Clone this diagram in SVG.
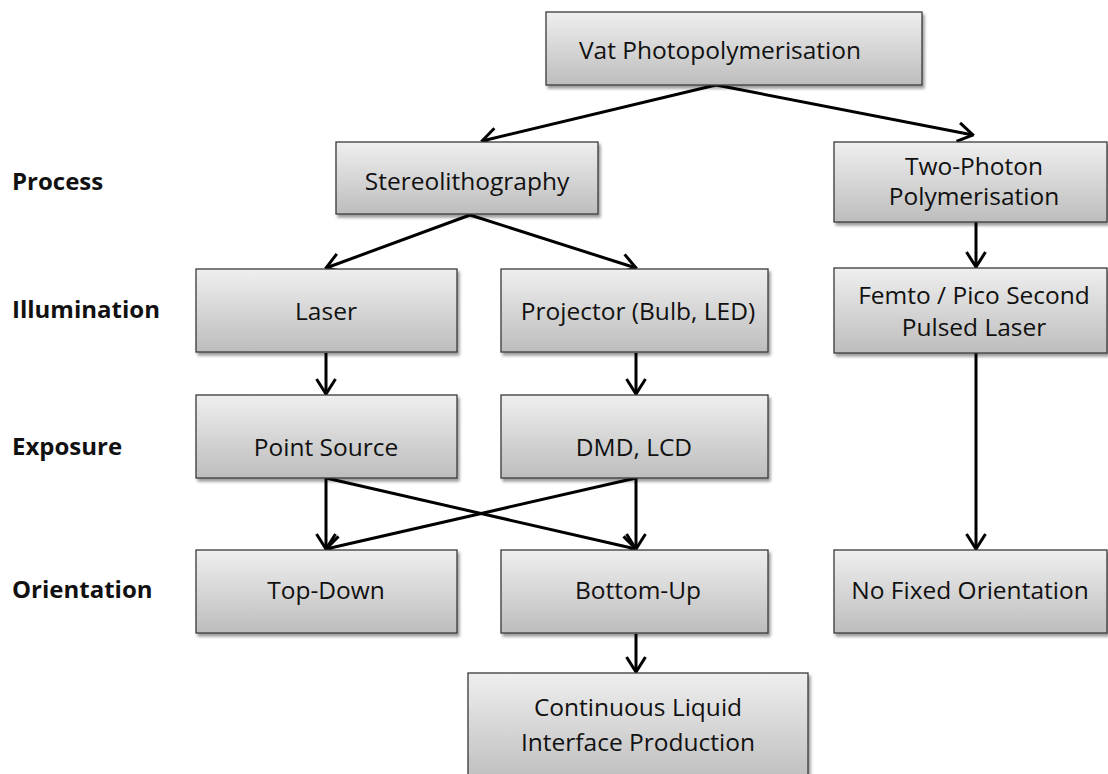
<svg xmlns="http://www.w3.org/2000/svg" width="1108" height="774" viewBox="0 0 1108 774">
<defs>
<linearGradient id="g" x1="0" y1="0" x2="0" y2="1">
<stop offset="0" stop-color="#efefef"/>
<stop offset="1" stop-color="#bdbdbd"/>
</linearGradient>
<filter id="sh" x="-5%" y="-5%" width="115%" height="125%">
<feGaussianBlur in="SourceAlpha" stdDeviation="1.5"/>
<feOffset dx="2" dy="3"/>
<feComponentTransfer><feFuncA type="linear" slope="0.4"/></feComponentTransfer>
<feMerge><feMergeNode/><feMergeNode in="SourceGraphic"/></feMerge>
</filter>
<marker id="a" viewBox="0 0 18 24" refX="16.5" refY="12" markerWidth="18" markerHeight="24" markerUnits="userSpaceOnUse" orient="auto">
<path d="M1.5,2.5 L16.5,12 L1.5,21.5" fill="none" stroke="#000" stroke-width="3"/>
</marker>
</defs>
<style>
.b{fill:url(#g);stroke:#3a3a3a;stroke-width:1.3;filter:url(#sh)}
.t{font-family:"Open Sans","Liberation Sans",sans-serif;font-size:24.5px;fill:#111;text-anchor:middle}
.l{font-family:"Open Sans","Liberation Sans",sans-serif;font-size:24px;font-weight:bold;fill:#111}
.c{stroke:#000;stroke-width:3;fill:none;marker-end:url(#a)}
</style>
<rect width="1108" height="774" fill="#fff"/>
<g id="labels">
<text class="l" x="12" y="190">Process</text>
<text class="l" x="12" y="318">Illumination</text>
<text class="l" x="12" y="455">Exposure</text>
<text class="l" x="12" y="598">Orientation</text>
</g>
<g id="connectors">
<line class="c" x1="716" y1="85" x2="482" y2="141"/>
<line class="c" x1="716" y1="85" x2="973" y2="135"/>
<line class="c" x1="470" y1="215" x2="326" y2="268"/>
<line class="c" x1="470" y1="215" x2="636" y2="268"/>
<line class="c" x1="326" y1="353" x2="326" y2="394"/>
<line class="c" x1="636" y1="353" x2="636" y2="394"/>
<line class="c" x1="326" y1="478" x2="326" y2="549"/>
<line class="c" x1="326" y1="478" x2="636" y2="549"/>
<line class="c" x1="636" y1="478" x2="636" y2="549"/>
<line class="c" x1="636" y1="478" x2="326" y2="549"/>
<line class="c" x1="636" y1="634" x2="636" y2="672"/>
<line class="c" x1="976" y1="222" x2="976" y2="267"/>
<line class="c" x1="976" y1="353" x2="976" y2="549"/>
</g>
<g id="vat"><rect class="b" x="546" y="12" width="376" height="73"/><text class="t" x="720" y="59">Vat Photopolymerisation</text></g>
<g id="stereo"><rect class="b" x="336" y="142" width="262" height="72"/><text class="t" x="467" y="190">Stereolithography</text></g>
<g id="twophoton"><rect class="b" x="834" y="142" width="273" height="80"/><text class="t" x="974" y="175">Two-Photon</text><text class="t" x="974" y="205">Polymerisation</text></g>
<g id="laser"><rect class="b" x="196" y="269" width="261" height="83"/><text class="t" x="326" y="320">Laser</text></g>
<g id="projector"><rect class="b" x="501" y="269" width="267" height="83"/><text class="t" x="638" y="320">Projector (Bulb, LED)</text></g>
<g id="femto"><rect class="b" x="834" y="268" width="273" height="85"/><text class="t" x="974" y="304">Femto / Pico Second</text><text class="t" x="974" y="336">Pulsed Laser</text></g>
<g id="point"><rect class="b" x="196" y="395" width="261" height="83"/><text class="t" x="326" y="456">Point Source</text></g>
<g id="dmd"><rect class="b" x="501" y="395" width="267" height="83"/><text class="t" x="634" y="456">DMD, LCD</text></g>
<g id="topdown"><rect class="b" x="196" y="550" width="261" height="83"/><text class="t" x="326" y="599">Top-Down</text></g>
<g id="bottomup"><rect class="b" x="501" y="550" width="267" height="83"/><text class="t" x="638" y="599">Bottom-Up</text></g>
<g id="nofixed"><rect class="b" x="834" y="550" width="273" height="83"/><text class="t" x="970" y="599">No Fixed Orientation</text></g>
<g id="clip"><rect class="b" x="468" y="673" width="340" height="110"/><text class="t" x="638" y="716">Continuous Liquid</text><text class="t" x="638" y="751">Interface Production</text></g>
</svg>
